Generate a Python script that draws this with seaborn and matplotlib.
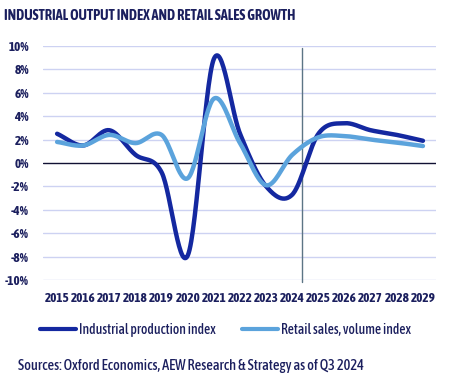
import numpy as np
import pandas as pd
import matplotlib
matplotlib.use("Agg")
import matplotlib.pyplot as plt
import seaborn as sns
from matplotlib.lines import Line2D

years = [2015, 2016, 2017, 2018, 2019, 2020, 2021, 2022, 2023, 2024, 2025, 2026, 2027, 2028, 2029]
industrial = [2.5, 1.5, 2.8, 0.7, -0.8, -7.9, 8.9, 2.5, -2.0, -2.7, 2.5, 3.4, 2.8, 2.4, 1.9]
retail = [1.8, 1.5, 2.4, 1.7, 2.4, -1.3, 5.5, 1.7, -1.9, 0.7, 2.2, 2.3, 2.0, 1.75, 1.45]
y_ticks = [-10, -8, -6, -4, -2, 0, 2, 4, 6, 8, 10]
series_names = ["Industrial production index", "Retail sales, volume index"]

sns.set_theme(style="white")
plt.rcParams["font.family"] = ["Asap Condensed", "DejaVu Sans"]

NAVY = "#1b1f5e"
DARK = "#1428a0"
LIGHT = "#5ba3dc"


def smooth(x, y, n=30):
    # Catmull-Rom smoothing for display (smoothed chart lines)
    x = np.asarray(x, float)
    y = np.asarray(y, float)
    px = np.concatenate([[2 * x[0] - x[1]], x, [2 * x[-1] - x[-2]]])
    py = np.concatenate([[2 * y[0] - y[1]], y, [2 * y[-1] - y[-2]]])
    xs, ys = [], []
    t = np.linspace(0, 1, n, endpoint=False)
    for i in range(1, len(px) - 2):
        for arr, a in ((ys, py[i - 1:i + 3]), (xs, px[i - 1:i + 3])):
            a0, a1, a2, a3 = a
            arr.extend(0.5 * ((2 * a1) + (-a0 + a2) * t + (2 * a0 - 5 * a1 + 4 * a2 - a3) * t ** 2
                              + (-a0 + 3 * a1 - 3 * a2 + a3) * t ** 3))
    xs.append(x[-1])
    ys.append(y[-1])
    return np.array(xs), np.array(ys)


frames = []
for name, vals in zip(series_names, [industrial, retail]):
    sx, sy = smooth(years, vals)
    frames.append(pd.DataFrame({"year": sx, "value": sy, "series": name}))
df = pd.concat(frames, ignore_index=True)

fig = plt.figure(figsize=(4.51, 3.81), dpi=100)
ax = fig.add_axes([43 / 451, 1 - 280 / 381, 393 / 451, 234 / 381])

for yv in y_ticks:
    if yv != 0:
        ax.axhline(yv, color="#cdd2f2", lw=1.0, zorder=0)
ax.axhline(0, color="#111133", lw=1.0, zorder=1)
ax.axvline(2024.37, ymin=-0.01, ymax=0.99, color="#5c7585", lw=1.0, zorder=1, clip_on=False)

sns.lineplot(data=df, x="year", y="value", hue="series", sort=False,
             palette={series_names[0]: DARK, series_names[1]: LIGHT},
             linewidth=3.2, ax=ax, legend=False, zorder=3)
ax.set_xlim(2014.46, 2029.5)
ax.set_ylim(-10, 10)
ax.set_xticks(years)
ax.set_xticklabels([str(y) for y in years])
ax.set_yticks(y_ticks)
ax.set_yticklabels([f"{v}%" for v in y_ticks])
ax.tick_params(axis="both", length=0, labelsize=9.5, labelcolor=NAVY)
ax.tick_params(axis="y", pad=10)
ax.tick_params(axis="x", pad=9)
for lab in ax.get_xticklabels() + ax.get_yticklabels():
    lab.set_fontweight("bold")
for s in ax.spines.values():
    s.set_visible(False)
ax.set_xlabel("")
ax.set_ylabel("")

fig.text(4 / 451, 1 - 16 / 381, "INDUSTRIAL OUTPUT INDEX AND RETAIL SALES GROWTH",
         fontsize=10.3, fontweight="bold", color=NAVY, va="center", ha="left")

handles = [Line2D([], [], color=DARK, lw=3), Line2D([], [], color=LIGHT, lw=3)]
leg = fig.legend(handles, series_names, loc="center", bbox_to_anchor=(225.5 / 451, 1 - 330 / 381),
                 ncol=2, frameon=False, handlelength=2.63, handletextpad=0.22, columnspacing=1.97,
                 borderpad=0, prop={"size": 9.85, "weight": "medium"})
for t in leg.get_texts():
    t.set_color(NAVY)

fig.text(18 / 451, 1 - 366 / 381, "Sources: Oxford Economics, AEW Research & Strategy as of Q3 2024",
         fontsize=10.4, fontweight="medium", color=NAVY, va="center", ha="left")

fig.savefig("out.png", dpi=100)
